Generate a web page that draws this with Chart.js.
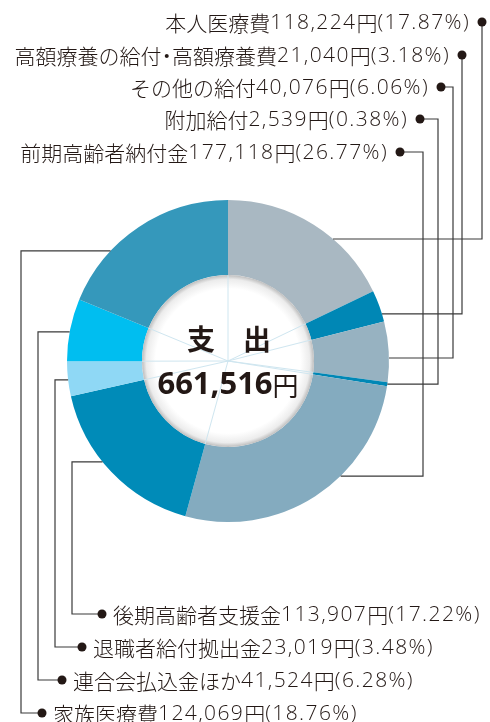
<!DOCTYPE html>
<html>
<head>
<meta charset="utf-8">
<script src="https://cdn.jsdelivr.net/npm/chart.js@4"></script>
<style>
  html, body { margin: 0; padding: 0; background: #fff; }
  #wrap { width: 490px; height: 722px; position: relative; }
</style>
</head>
<body>
<div id="wrap"><canvas id="myChart"></canvas></div>
<script>
// categories, clockwise from 12 o'clock
const categories = [
    '本人医療費',
    '高額療養の給付・高額療養費',
    'その他の給付',
    '附加給付',
    '前期高齢者納付金',
    '後期高齢者支援金',
    '退職者給付拠出金',
    '連合会払込金ほか',
    '家族医療費',
];
const amounts = [118224, 21040, 40076, 2539, 177118, 113907, 23019, 41524, 124069];
const percents = ['17.87', '3.18', '6.06', '0.38', '26.77', '17.22', '3.48', '6.28', '18.76'];
const totalLabel = '661,516';
const centerTitle = '支　出';

const colors = ['#a9b8c2', '#0087b5', '#97b2c1', '#0087b5', '#84abbf', '#008bb8', '#8fd8f5', '#00bef0', '#3598bb'];

// leader layout: dot position, x of the vertical run, where on the slice the line lands (0..1)
const leaders = [
    { dotX: 482, dotY: 22, vx: 482, f: 0.633, side: 'top' },
    { dotX: 462, dotY: 55, vx: 462, f: 0.757, side: 'top' },
    { dotX: 441, dotY: 87, vx: 453, f: 0.603, side: 'top' },
    { dotX: 420, dotY: 119, vx: 438, f: 0.5, side: 'top' },
    { dotX: 400, dotY: 152, vx: 423, f: 0.38, side: 'top' },
    { dotX: 102, dotY: 614, vx: 72, f: 0.578, side: 'bottom' },
    { dotX: 82, dotY: 647, vx: 55, f: 0.47, side: 'bottom' },
    { dotX: 62, dotY: 680, vx: 38, f: 0.466, side: 'bottom' },
    { dotX: 42, dotY: 713, vx: 21, f: 0.306, side: 'bottom' },
];

const latinFont = '300 21px "Open Sans", sans-serif';
const cjkFont = '300 21px "Noto Sans CJK JP", sans-serif';

// mixed text: wide-spaced latin, tight cjk, half-width middle dot
function drawRich(ctx, text, x, y, align) {
    const runs = text.match(/[\x20-\x7e]+|・|[^\x20-\x7e・]+/g);
    const parts = runs.map(r => {
        if (r === '・') return { r, dot: true, w: 10.5 };
        const latin = /^[\x20-\x7e]/.test(r);
        ctx.font = latin ? latinFont : cjkFont;
        ctx.letterSpacing = latin ? '1.4px' : '0px';
        return { r, latin, w: ctx.measureText(r).width };
    });
    const total = parts.reduce((s, p) => s + p.w, 0);
    let px = align === 'right' ? x - total : x;
    ctx.textBaseline = 'middle';
    parts.forEach(p => {
        if (p.dot) {
            ctx.letterSpacing = '0px';
            ctx.font = cjkFont;
            ctx.textAlign = 'center';
            ctx.fillText(p.r, px + p.w / 2, y);
        } else {
            ctx.font = p.latin ? latinFont : cjkFont;
            ctx.letterSpacing = p.latin ? '1.4px' : '0px';
            ctx.textAlign = 'left';
            ctx.fillText(p.r, px, y);
        }
        px += p.w;
    });
    ctx.letterSpacing = '0px';
}

const decor = {
    id: 'decor',
    afterDatasetsDraw(chart) {
        const ctx = chart.ctx;
        const arcs = chart.getDatasetMeta(0).data;
        const cx = arcs[0].x, cy = arcs[0].y;
        const inner = arcs[0].innerRadius;
        const outer = arcs[0].outerRadius;

        // white centre disc, greyed toward its rim
        ctx.save();
        const g = ctx.createRadialGradient(cx, cy, 0, cx, cy, inner);
        g.addColorStop(0, '#ffffff');
        g.addColorStop(0.84, '#ffffff');
        g.addColorStop(0.95, '#ececec');
        g.addColorStop(1, '#bdbdbd');
        ctx.beginPath();
        ctx.arc(cx, cy, inner, 0, Math.PI * 2);
        ctx.fillStyle = g;
        ctx.fill();
        ctx.restore();

        // faint spokes on slice boundaries
        ctx.save();
        ctx.strokeStyle = '#cfe6f0';
        ctx.lineWidth = 1;
        arcs.forEach(a => {
            ctx.beginPath();
            ctx.moveTo(cx, cy);
            ctx.lineTo(cx + Math.cos(a.startAngle) * inner, cy + Math.sin(a.startAngle) * inner);
            ctx.stroke();
        });
        ctx.restore();

        // centre texts
        ctx.save();
        ctx.fillStyle = '#231815';
        ctx.textBaseline = 'middle';
        ctx.textAlign = 'center';
        ctx.font = 'bold 28px "Noto Sans CJK JP", sans-serif';
        ctx.fillText(centerTitle, cx + 1, cy - 22);
        ctx.font = 'bold 31px "Open Sans", "Noto Sans CJK JP", sans-serif';
        const w1 = ctx.measureText(totalLabel).width;
        ctx.font = '26px "Noto Sans CJK JP", sans-serif';
        const w2 = ctx.measureText('円').width;
        let x0 = cx - (w1 + w2) / 2;
        ctx.textAlign = 'left';
        ctx.font = 'bold 31px "Open Sans", "Noto Sans CJK JP", sans-serif';
        ctx.fillText(totalLabel, x0, cy + 24);
        ctx.font = '26px "Noto Sans CJK JP", sans-serif';
        ctx.fillText('円', x0 + w1, cy + 25);
        ctx.restore();

        // leader lines and labels
        ctx.save();
        ctx.strokeStyle = '#3a3a3a';
        ctx.fillStyle = '#231815';
        ctx.lineWidth = 1.2;
        leaders.forEach((L, i) => {
            const a = arcs[i];
            const ang = a.startAngle + L.f * (a.endAngle - a.startAngle);
            const ex = cx + Math.cos(ang) * outer;
            const ey = cy + Math.sin(ang) * outer;
            ctx.beginPath();
            ctx.moveTo(L.dotX, L.dotY);
            ctx.lineTo(L.vx, L.dotY);
            ctx.lineTo(L.vx, ey);
            ctx.lineTo(ex, ey);
            ctx.stroke();
            ctx.beginPath();
            ctx.arc(L.dotX, L.dotY, 4.5, 0, Math.PI * 2);
            ctx.fill();

            const text = categories[i] + amounts[i].toLocaleString('en-US') + '円(' + percents[i] + '%)';
            if (L.side === 'top') {
                drawRich(ctx, text, L.dotX - 12, L.dotY + 1, 'right');
            } else {
                drawRich(ctx, text, L.dotX + 11, L.dotY + 1, 'left');
            }
        });
        ctx.restore();
    }
};

new Chart(document.getElementById('myChart'), {
    type: 'doughnut',
    data: {
        labels: categories,
        datasets: [{
            data: amounts,
            backgroundColor: colors,
            borderWidth: 0,
        }],
    },
    options: {
        responsive: true,
        maintainAspectRatio: false,
        animation: false,
        cutout: 86,
        layout: { padding: { left: 67, right: 101, top: 200, bottom: 200 } },
        plugins: {
            legend: { display: false },
            tooltip: { enabled: false },
        },
    },
    plugins: [decor],
});
</script>
</body>
</html>
